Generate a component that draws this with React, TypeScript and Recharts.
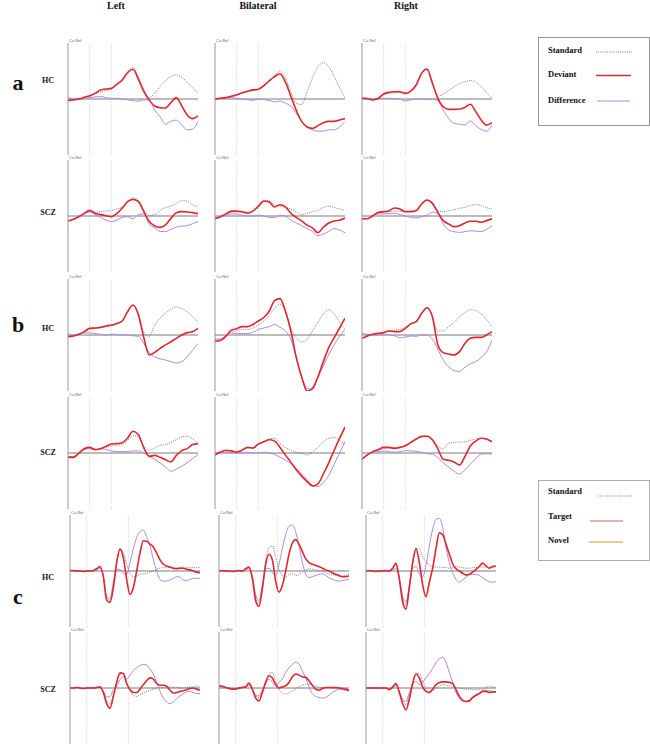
import React from 'react';
import { LineChart, Line, XAxis, YAxis, ReferenceLine } from 'recharts';

// time axes (ms)
const TIME_AB = [-100, -75, -50, -25, 0, 25, 50, 75, 100, 125, 150, 175, 200, 225, 250, 275, 300, 325, 350, 375, 400, 425, 450, 475, 500];
const TIME_C = [-100, -80, -60, -40, -20, 0, 20, 40, 60, 80, 100, 120, 140, 160, 180, 200, 220, 240, 260, 280, 300, 320, 340, 360, 380, 400, 420, 440, 460, 480, 500, 520, 540, 560, 580, 600, 620, 640, 660, 680];

const COLUMNS = ['Left', 'Bilateral', 'Right'];
const GROUPS = ['HC', 'SCZ'];
const PANEL_LETTERS = ['a', 'b', 'c'];

// a: Standard / Deviant / Difference (uV)
const A_HC_L_STD = [-0.05, 0, 0.05, 0.1, 0.2, 0.35, 0.5, 0.6, 0.7, 1.0, 1.3, 1.9, 2.25, 1.6, 0.7, 0.1, 0.4, 0.9, 1.3, 1.6, 1.72, 1.55, 1.2, 0.8, 0.45];
const A_HC_L_DEV = [-0.1, -0.07, 0, 0.12, 0.24, 0.4, 0.64, 0.71, 0.76, 1.05, 1.36, 1.88, 2.12, 1.4, 0.52, -0.07, -0.5, -0.62, -0.64, -0.26, 0.1, -0.5, -1.14, -1.4, -1.2];
const A_HC_L_DIFF = [0.1, 0, -0.05, 0.05, 0.1, 0.15, 0.17, 0.1, 0.05, 0.05, 0, -0.05, -0.12, -0.15, -0.05, -0.1, -0.8, -1.26, -1.8, -1.6, -1.5, -1.86, -2.2, -2.15, -1.6];

const A_SCZ_L_STD = [-0.36, -0.24, -0.05, 0.15, 0.3, 0.25, 0.3, 0.35, 0.4, 0.5, 0.65, 1.0, 1.3, 1.1, 0.45, 0.05, 0.1, 0.4, 0.6, 0.7, 0.9, 1.1, 1.05, 0.8, 0.65];
const A_SCZ_L_DEV = [-0.36, -0.24, -0.05, 0.19, 0.4, 0.19, 0.1, 0.02, -0.05, 0.17, 0.55, 1.02, 1.19, 1.02, 0.31, -0.4, -0.71, -0.81, -0.64, -0.17, 0.24, 0.31, 0.29, 0.24, 0.17];
const A_SCZ_L_DIFF = [-0.36, -0.24, -0.05, 0.15, 0.3, 0.1, -0.1, -0.3, -0.4, -0.3, -0.1, -0.05, -0.2, 0.1, 0.15, -0.6, -0.85, -1.1, -1.12, -0.95, -0.8, -0.72, -0.69, -0.55, -0.4];

const A_HC_B_STD = [0, 0.05, 0.1, 0.15, 0.25, 0.4, 0.5, 0.6, 0.65, 0.9, 1.25, 1.7, 2.0, 1.5, 0.5, -0.3, -0.4, 0.5, 1.5, 2.3, 2.6, 2.3, 1.6, 0.8, 0.1];
const A_HC_B_DEV = [0, 0.05, 0.1, 0.2, 0.3, 0.45, 0.55, 0.65, 0.7, 0.95, 1.3, 1.6, 1.8, 1.2, 0.2, -0.8, -1.6, -2.0, -2.1, -1.9, -1.7, -1.6, -1.6, -1.5, -1.4];
const A_HC_B_DIFF = [0, 0.05, 0.05, 0.1, 0.05, 0, -0.05, -0.1, 0, -0.05, -0.1, -0.2, -0.15, -0.3, -0.5, -1.0, -1.6, -2.0, -2.2, -2.3, -2.3, -2.2, -2.2, -2.0, -1.6];

const A_SCZ_B_STD = [-0.2, -0.1, 0.1, 0.25, 0.3, 0.3, 0.3, 0.35, 0.6, 1.05, 1.1, 0.8, 0.7, 0.6, 0.5, 0.3, 0.1, 0.2, 0.3, 0.4, 0.6, 0.7, 0.6, 0.5, 0.4];
const A_SCZ_B_DEV = [-0.2, -0.05, 0.15, 0.35, 0.35, 0.3, 0.2, 0.35, 0.7, 1.07, 1.0, 0.65, 0.8, 0.65, 0.2, -0.1, -0.35, -0.65, -0.85, -1.2, -0.8, -0.5, -0.35, -0.3, -0.15];
const A_SCZ_B_DIFF = [-0.1, -0.05, 0.05, 0.15, 0.15, 0.05, 0, 0, 0.05, 0, -0.1, -0.1, 0.05, 0, -0.3, -0.5, -0.7, -0.9, -1.1, -1.4, -1.3, -1.1, -0.9, -1.0, -1.2];

const A_HC_R_STD = [0.05, 0.02, -0.05, 0.05, 0.3, 0.4, 0.45, 0.45, 0.4, 0.55, 1.0, 1.85, 2.2, 1.2, 0.2, 0.35, 0.6, 0.88, 1.1, 1.24, 1.31, 1.2, 0.88, 0.45, 0.05];
const A_HC_R_DEV = [0.05, 0.02, -0.07, 0.05, 0.36, 0.48, 0.52, 0.52, 0.4, 0.57, 1.0, 1.83, 2.12, 1.12, 0.05, -0.55, -0.74, -0.74, -0.71, -0.6, -0.38, -0.9, -1.5, -1.86, -1.69];
const A_HC_R_DIFF = [0.1, 0.05, 0, 0.02, 0.05, 0.05, 0.02, 0, -0.14, -0.05, 0, 0, -0.02, -0.03, -0.1, -0.8, -1.38, -1.74, -1.8, -1.86, -1.57, -1.9, -2.17, -2.3, -1.86];

const A_SCZ_R_STD = [-0.2, -0.2, 0, 0.2, 0.25, 0.3, 0.35, 0.35, 0.3, 0.35, 0.45, 0.85, 1.1, 0.95, 0.38, 0.3, 0.38, 0.45, 0.55, 0.62, 0.75, 0.81, 0.75, 0.6, 0.5];
const A_SCZ_R_DEV = [-0.2, -0.2, 0.02, 0.26, 0.31, 0.38, 0.57, 0.5, 0.31, 0.31, 0.38, 0.86, 1.14, 0.9, 0.26, -0.33, -0.57, -0.76, -0.69, -0.5, -0.38, -0.38, -0.45, -0.33, -0.2];
const A_SCZ_R_DIFF = [-0.17, -0.17, 0, 0.15, 0.15, 0.17, 0.2, 0.1, 0, -0.1, -0.14, -0.05, 0.05, 0.26, 0.15, -0.57, -1.0, -1.12, -1.17, -1.12, -1.05, -1.08, -1.12, -0.95, -0.69];

// b
const B_HC_L_STD = [-0.1, -0.05, 0.05, 0.2, 0.4, 0.45, 0.5, 0.6, 0.65, 0.8, 0.95, 1.6, 2.1, 1.5, 0.2, -0.1, 0.7, 1.2, 1.55, 1.85, 2.0, 1.9, 1.67, 1.3, 0.95];
const B_HC_L_DEV = [-0.12, -0.07, 0.05, 0.24, 0.48, 0.5, 0.55, 0.64, 0.71, 0.83, 1.0, 1.67, 2.14, 1.43, -0.2, -1.43, -1.24, -0.95, -0.71, -0.48, -0.24, 0, 0.17, 0.24, 0.48];
const B_HC_L_DIFF = [0.1, -0.05, 0.05, 0.15, 0.15, 0.1, 0.05, 0, 0.05, 0.05, 0, 0, -0.05, -0.1, -0.6, -1.25, -1.55, -1.7, -1.79, -1.9, -2.0, -1.9, -1.55, -1.1, -0.6];

const B_SCZ_L_STD = [-0.3, -0.3, 0, 0.3, 0.4, 0.25, 0.3, 0.4, 0.5, 0.55, 0.6, 0.9, 1.25, 1.1, 0.5, 0.2, 0.35, 0.55, 0.6, 0.75, 0.95, 1.15, 1.2, 1.0, 0.7];
const B_SCZ_L_DEV = [-0.31, -0.31, -0.02, 0.31, 0.4, 0.24, 0.31, 0.48, 0.64, 0.67, 0.74, 1.07, 1.55, 1.31, 0.36, -0.24, -0.17, -0.31, -0.48, -0.64, -0.17, 0.17, 0.31, 0.6, 0.67];
const B_SCZ_L_DIFF = [-0.25, -0.25, 0, 0.25, 0.3, 0.25, 0.3, 0.25, 0.15, 0.1, 0.1, 0.1, 0.15, 0.15, 0, -0.2, -0.45, -0.7, -1.0, -1.3, -1.15, -0.95, -0.7, -0.4, -0.12];

const B_HC_B_STD = [-0.3, -0.3, 0, 0.2, 0.3, 0.4, 0.4, 0.5, 0.7, 1.0, 1.4, 1.9, 2.2, 1.7, 0.5, -0.2, -0.5, -0.3, 0.3, 0.9, 1.5, 1.8, 1.5, 0.9, 0.4];
const B_HC_B_DEV = [-0.45, -0.4, -0.1, 0.35, 0.45, 0.6, 0.6, 0.75, 1.0, 1.25, 1.7, 2.45, 2.6, 1.7, 0.3, -1.6, -3.0, -4.0, -3.8, -3.0, -1.9, -0.9, -0.2, 0.5, 1.2];
const B_HC_B_DIFF = [-0.3, -0.3, -0.05, 0.15, 0.1, 0.1, 0.1, 0.2, 0.4, 0.5, 0.6, 0.75, 0.55, 0.3, -0.3, -1.6, -3.0, -3.8, -3.9, -3.0, -2.2, -1.4, -0.7, -0.1, 0.4];

const B_SCZ_B_STD = [-0.15, 0.05, 0.15, 0.15, 0.1, 0.2, 0.35, 0.4, 0.6, 0.8, 1.0, 1.05, 0.7, 0.4, 0.2, 0.05, 0, -0.15, 0.1, 0.4, 0.8, 1.05, 1.1, 0.9, 0.6];
const B_SCZ_B_DEV = [-0.15, 0.07, 0.2, 0.15, 0.07, 0.2, 0.4, 0.35, 0.65, 0.8, 0.95, 0.85, 0.4, -0.15, -0.65, -1.2, -1.65, -2.05, -2.35, -2.2, -1.5, -0.7, 0.2, 1.05, 1.85];
const B_SCZ_B_DIFF = [0, 0.05, 0.05, 0, 0, 0, 0.05, 0, 0, 0.05, 0, -0.1, -0.3, -0.5, -0.75, -1.1, -1.5, -1.9, -2.3, -2.4, -2.1, -1.6, -0.8, 0, 0.85];

const B_HC_R_STD = [-0.2, -0.05, 0.05, 0.1, 0.15, 0.3, 0.35, 0.4, 0.55, 0.8, 1.0, 1.5, 1.9, 1.3, 0.29, 0.3, 0.6, 0.9, 1.3, 1.6, 1.8, 1.75, 1.5, 1.1, 0.6];
const B_HC_R_DEV = [-0.24, -0.07, 0.05, 0.12, 0.17, 0.29, 0.24, 0.24, 0.48, 0.79, 0.95, 1.55, 1.95, 1.31, -0.71, -1.26, -1.36, -1.43, -1.19, -0.6, -0.24, -0.17, -0.17, 0, 0.24];
const B_HC_R_DIFF = [0.1, 0.05, 0, 0, 0.05, 0.02, -0.05, -0.2, -0.15, -0.07, -0.1, 0.02, 0, -0.3, -1.0, -1.8, -2.26, -2.55, -2.6, -2.3, -2.05, -1.9, -1.6, -1.2, -0.36];

const B_SCZ_R_STD = [-0.4, -0.15, 0.1, 0.2, 0.3, 0.35, 0.35, 0.4, 0.5, 0.75, 0.95, 1.15, 1.2, 0.9, 0.5, 0.3, 0.7, 0.75, 0.78, 0.8, 0.9, 1.0, 1.05, 0.95, 0.8];
const B_SCZ_R_DEV = [-0.43, -0.14, 0.1, 0.24, 0.4, 0.4, 0.33, 0.4, 0.52, 0.76, 1.0, 1.19, 1.2, 0.95, 0.29, -0.45, -0.52, -0.65, -0.86, -0.25, 0.5, 0.85, 1.05, 1.0, 0.8];
const B_SCZ_R_DIFF = [-0.43, -0.1, 0.05, 0.1, 0.14, 0.1, 0.05, 0.1, 0.17, 0.15, 0.12, 0.05, -0.05, -0.1, -0.31, -0.7, -1.0, -1.3, -1.5, -1.2, -0.79, -0.4, -0.07, -0.05, -0.07];

// c: Standard / Target / Novel
const C_HC_L_STD = [0.1, 0.1, 0, 0, -0.1, 0, 0, 0.1, 0.3, 0.6, -0.9, -4.8, -5.3, -2.8, 1.8, 3.9, 3.2, 1.3, -0.4, -1.0, -0.9, -0.6, -0.5, -0.4, -0.2, 0, 0.3, 0.5, 0.6, 0.6, 0.7, 0.7, 0.6, 0.6, 0.7, 0.7, 0.6, 0.6, 0.6, 0.6];
const C_HC_L_TGT = [0.1, 0.1, 0, 0, -0.1, 0, 0, 0.1, 0.4, 0.8, -1.0, -5.2, -5.6, -3.0, 1.5, 3.9, 2.4, -1.5, -4.2, -3.0, 0, 3.2, 5.4, 5.3, 4.8, 4.3, 3.2, 2.0, 1.2, 0.9, 0.7, 0.5, 0.4, 0.5, 0.5, 0.3, 0.2, 0, -0.2, -0.3];
const C_HC_L_NOV = [0, 0, 0, 0, 0, 0, 0, 0, 0.2, 0.5, -1.0, -4.5, -5.0, -2.0, 0.3, 0.3, -0.4, -0.6, 1.5, 4.0, 6.0, 7.0, 7.3, 6.0, 4.5, 2.0, 0, -1.5, -1.8, -1.8, -1.6, -1.3, -1.0, -1.1, -1.6, -1.7, -1.5, -1.3, -1.3, -1.4];

const C_SCZ_L_STD = [0, 0, 0.1, 0, -0.1, 0, 0, 0, 0.1, 0.1, -0.6, -2.2, -2.8, -1.2, 1.0, 2.5, 2.6, 1.0, -0.5, -1.3, -1.5, -1.2, -0.9, -0.6, -0.4, -0.2, 0, 0.1, 0.1, 0.2, 0.2, 0.1, 0.1, 0, 0, 0.1, 0.2, 0.2, 0.3, 0.3];
const C_SCZ_L_TGT = [0, 0, 0.1, 0, -0.1, 0, 0, 0, 0.1, 0.2, -0.8, -2.8, -3.6, -1.5, 1.0, 2.7, 2.6, 0.8, -0.3, -0.8, -0.8, -0.2, 0.6, 1.3, 1.8, 1.6, 0.8, 0.5, 0.5, 0.3, -0.4, -0.9, -0.8, -0.6, -0.5, -0.3, -0.1, 0, -0.2, -0.4];
const C_SCZ_L_NOV = [0, 0, 0.1, 0, -0.1, 0, 0, 0, 0.1, 0.1, -0.5, -1.6, -1.5, -0.3, 0.3, 1.5, 2.0, 1.6, 2.3, 3.1, 3.6, 4.0, 4.2, 4.1, 3.4, 2.5, 1.0, -0.6, -1.8, -2.5, -2.8, -2.5, -1.9, -1.4, -1.0, -0.7, -0.6, -0.8, -1.0, -1.0];

const C_HC_B_STD = [0, 0.1, 0, 0, -0.1, 0, 0.1, 0, 0.3, 0.5, -1.0, -4.6, -5.8, -3.0, 1.8, 4.2, 4.5, 2.5, 0.3, -0.8, -1.0, -0.6, -0.5, -0.8, -0.6, -0.2, 0.2, 0.4, 0.3, 0.2, 0.1, 0, -0.3, -0.5, -0.6, -0.8, -0.9, -1.0, -0.8, -0.6];
const C_HC_B_TGT = [0, 0.1, 0, 0, -0.1, 0, 0.1, 0, 0.4, 0.7, -1.3, -5.3, -6.3, -3.2, 1.2, 3.0, 2.0, -1.8, -3.8, -2.6, 0, 3.0, 5.0, 5.6, 4.8, 3.5, 2.2, 1.5, 1.2, 1.0, 0.8, 0.5, 0.2, 0, -0.3, -0.6, -0.8, -1.0, -1.0, -0.9];
const C_HC_B_NOV = [0, 0, 0, 0, 0, 0, 0, 0, 0.2, 0.4, -1.0, -4.2, -5.3, -2.5, 0.3, 0.5, -0.3, -0.8, 1.2, 4.0, 6.5, 8.0, 8.2, 7.0, 4.5, 1.5, -0.5, -1.2, -1.0, -0.8, -0.6, -0.5, -0.8, -1.2, -1.5, -1.7, -1.8, -1.7, -1.6, -1.5];

const C_SCZ_B_STD = [0.3, 0.2, 0.1, 0, -0.1, -0.1, 0, 0.1, 0.2, 0.5, -0.3, -1.4, -1.7, -0.5, 1.2, 2.5, 2.8, 1.2, -0.2, -0.9, -1.1, -0.9, -0.5, -0.2, 0.2, 0.5, 0.7, 0.7, 0.5, 0.3, 0.2, 0.1, 0.1, 0.1, 0, 0, -0.1, -0.2, -0.3, -0.3];
const C_SCZ_B_TGT = [0.4, 0.3, 0.1, -0.1, -0.2, -0.2, 0, 0.1, 0.2, 0.9, -0.2, -1.8, -2.3, -0.8, 1.0, 2.2, 1.8, 0.6, 0, 0.2, 0.4, 1.0, 2.0, 2.5, 2.3, 2.0, 1.9, 1.3, 0.5, -0.2, -0.4, -0.1, 0.1, 0.1, 0.1, 0.1, 0, -0.1, -0.2, -0.5];
const C_SCZ_B_NOV = [0.2, 0.2, 0.1, 0, -0.1, -0.1, 0, 0.1, 0.1, 0.5, -0.2, -1.2, -1.4, -0.3, 0.8, 1.6, 1.0, 0.4, 1.0, 1.6, 2.8, 3.6, 4.2, 4.6, 4.3, 3.0, 1.8, 0.2, -1.0, -1.5, -1.7, -1.8, -1.7, -1.3, -0.8, -0.5, -0.2, -0.3, -0.4, -0.5];

const C_HC_R_STD = [0, 0.1, 0, -0.1, 0, 0, 0.1, 0, 0.4, 1.0, -1.3, -5.0, -6.0, -2.8, 1.3, 3.7, 4.0, 2.5, 1.8, 1.0, 0.8, 0.7, 0.7, 0.6, 0.6, 0.5, 0.6, 0.8, 0.7, 0.6, 0.5, 0.5, 0.6, 0.6, 0.7, 0.7, 0.7, 0.7, 0.7, 0.7];
const C_HC_R_TGT = [0, 0.1, 0, -0.1, 0, 0, 0.1, 0, 0.5, 1.4, -1.5, -5.5, -6.8, -3.0, 1.5, 4.0, 1.5, -2.5, -4.6, -2.0, 0.5, 4.0, 6.8, 6.5, 4.8, 3.0, 1.3, 0.4, 0, -0.4, -0.7, -0.6, -0.2, 0.3, 0.8, 1.4, 0.9, 0.5, 0.8, 0.9];
const C_HC_R_NOV = [0, 0, 0, 0, 0, 0, 0, 0, 0.2, 0.5, -1.2, -4.5, -5.5, -2.5, 0.5, 0.8, -0.5, -1.0, 1.0, 4.5, 7.5, 9.2, 9.4, 7.8, 4.2, 1.5, -0.3, -1.5, -2.0, -1.6, -1.1, -0.7, -0.6, -0.6, -0.8, -1.2, -1.6, -1.9, -2.0, -1.9];

const C_SCZ_R_STD = [0, 0, 0, 0, 0, 0, 0, -0.2, 0.1, 0.5, -0.6, -2.2, -3.0, -1.3, 1.0, 2.5, 2.6, 1.2, 0, -0.6, -0.5, 0, 0.4, 0.6, 0.5, 0.4, 0.3, 0.1, 0, -0.1, -0.2, -0.2, -0.3, -0.3, -0.3, -0.3, 0.1, 0.3, 0.2, 0.1];
const C_SCZ_R_TGT = [0, 0, 0, 0, 0, 0, 0, -0.3, 0.2, 0.8, -0.8, -2.8, -3.9, -2.0, 0.8, 2.5, 1.8, 0.2, -0.6, -0.8, -0.2, 0.6, 1.0, 1.1, 1.1, 1.0, 0.8, -0.3, -1.5, -2.2, -2.4, -2.3, -1.7, -1.3, -1.0, -0.6, -0.6, -0.8, -0.7, -0.7];
const C_SCZ_R_NOV = [0, 0, 0, 0, 0, 0, 0, -0.2, 0.1, 0.5, -0.6, -2.0, -2.4, -0.8, 0.6, 1.2, 0.6, 1.0, 1.8, 2.6, 3.5, 4.5, 5.2, 5.5, 4.6, 2.8, 1.0, -0.8, -1.9, -2.3, -2.4, -2.1, -1.6, -1.2, -0.9, -0.6, -0.4, -0.5, -0.6, -0.7];

// layout
const PLOT_W = 130;
const HALF_H = 56;
const COL_X_AB = [68, 215, 362];
const COL_X_C = [70, 219, 366];
const ROW_ZERO = [99, 216, 335, 453, 571, 688];
const ROW_LABEL_Y = [83, 215, 331, 455, 580, 692];
const LETTER_Y = [90, 332, 604];

const SERIES = [
    [[A_HC_L_STD, A_HC_L_DEV, A_HC_L_DIFF], [A_HC_B_STD, A_HC_B_DEV, A_HC_B_DIFF], [A_HC_R_STD, A_HC_R_DEV, A_HC_R_DIFF]],
    [[A_SCZ_L_STD, A_SCZ_L_DEV, A_SCZ_L_DIFF], [A_SCZ_B_STD, A_SCZ_B_DEV, A_SCZ_B_DIFF], [A_SCZ_R_STD, A_SCZ_R_DEV, A_SCZ_R_DIFF]],
    [[B_HC_L_STD, B_HC_L_DEV, B_HC_L_DIFF], [B_HC_B_STD, B_HC_B_DEV, B_HC_B_DIFF], [B_HC_R_STD, B_HC_R_DEV, B_HC_R_DIFF]],
    [[B_SCZ_L_STD, B_SCZ_L_DEV, B_SCZ_L_DIFF], [B_SCZ_B_STD, B_SCZ_B_DEV, B_SCZ_B_DIFF], [B_SCZ_R_STD, B_SCZ_R_DEV, B_SCZ_R_DIFF]],
    [[C_HC_L_STD, C_HC_L_TGT, C_HC_L_NOV], [C_HC_B_STD, C_HC_B_TGT, C_HC_B_NOV], [C_HC_R_STD, C_HC_R_TGT, C_HC_R_NOV]],
    [[C_SCZ_L_STD, C_SCZ_L_TGT, C_SCZ_L_NOV], [C_SCZ_B_STD, C_SCZ_B_TGT, C_SCZ_B_NOV], [C_SCZ_R_STD, C_SCZ_R_TGT, C_SCZ_R_NOV]],
];

const STD_COLOR = '#5a5a5a';
const RED = '#e3262c';
const PURPLE = '#b386dd';
const AXIS_GRAY = '#9a9a9a';

const SERIF = '"Liberation Serif", "Times New Roman", serif';

interface PanelProps {
    axisX: number;
    zeroY: number;
    time: number[];
    std: number[];
    main: number[];
    other: number[];
    isC: boolean;
}

const ML = 2;
const YW = 4;
const MT = 4;
const MR = 2;
const MB = 2;

const Panel: React.FC<PanelProps> = ({ axisX, zeroY, time, std, main, other, isC }) => {
    const data = time.map((t, i) => ({ t, std: std[i], main: main[i], other: other[i] }));
    const xDomain = isC ? [-100, 680] : [-100, 500];
    const yDomain = isC ? [-10, 10] : [-4, 4];
    const ticks = isC ? [-10, -8, -6, -4, -2, 0, 2, 4, 6, 8, 10] : [-4, -2, 0, 2, 4];
    const markers = isC ? [0, 250] : [0, 100];
    return (
        <div style={{ position: 'absolute', left: axisX - ML - YW, top: zeroY - HALF_H - MT }}>
            <LineChart
                width={ML + YW + PLOT_W + MR}
                height={MT + HALF_H * 2 + MB}
                data={data}
                margin={{ top: MT, right: MR, left: ML, bottom: MB }}
            >
                <XAxis dataKey="t" type="number" domain={xDomain} hide allowDataOverflow />
                <YAxis
                    type="number"
                    domain={yDomain}
                    ticks={ticks}
                    width={YW}
                    tick={false}
                    tickSize={2}
                    axisLine={{ stroke: AXIS_GRAY, strokeWidth: 1 }}
                    tickLine={{ stroke: AXIS_GRAY, strokeWidth: 0.8 }}
                    allowDataOverflow
                />
                {markers.map((m) => (
                    <ReferenceLine key={m} x={m} stroke="#c2c2c2" strokeWidth={0.8} strokeDasharray="1 1.5" />
                ))}
                <ReferenceLine y={0} stroke="#a6a6a6" strokeWidth={1.6} />
                <Line dataKey="std" type="monotone" stroke={STD_COLOR} strokeWidth={0.8} strokeDasharray="1 1.2" dot={false} isAnimationActive={false} />
                <Line dataKey="other" type="monotone" stroke={PURPLE} strokeWidth={1} dot={false} isAnimationActive={false} />
                <Line dataKey="main" type="monotone" stroke={RED} strokeWidth={1.6} dot={false} isAnimationActive={false} />
            </LineChart>
            <div
                style={{
                    position: 'absolute',
                    left: ML + YW + 1,
                    top: 0,
                    fontSize: 4,
                    lineHeight: '4px',
                    color: '#666',
                    fontFamily: 'Arial, sans-serif',
                    whiteSpace: 'nowrap',
                }}
            >
                Cz-Ref
            </div>
        </div>
    );
};

const App: React.FC = () => {
    const colCenters = [116, 258, 406];
    return (
        <div style={{ position: 'absolute', left: 0, top: 0, width: 650, height: 746, background: '#fff', overflow: 'hidden' }}>
            {SERIES.map((row, r) =>
                row.map((cell, c) => {
                    const isC = r >= 4;
                    return (
                        <Panel
                            key={`${r}-${c}`}
                            axisX={isC ? COL_X_C[c] : COL_X_AB[c]}
                            zeroY={ROW_ZERO[r]}
                            time={isC ? TIME_C : TIME_AB}
                            std={cell[0]}
                            main={cell[1]}
                            other={cell[2]}
                            isC={isC}
                        />
                    );
                })
            )}
            <svg width={650} height={746} style={{ position: 'absolute', left: 0, top: 0, pointerEvents: 'none' }}>
                <g fontFamily={SERIF} fontWeight="bold" fill="#111">
                    {COLUMNS.map((name, i) => (
                        <text key={name} x={colCenters[i]} y={9} fontSize={10} textAnchor="middle">
                            {name}
                        </text>
                    ))}
                    {PANEL_LETTERS.map((l, i) => (
                        <text key={l} x={18} y={LETTER_Y[i]} fontSize={22} textAnchor="middle">
                            {l}
                        </text>
                    ))}
                    {ROW_LABEL_Y.map((y, i) => (
                        <text key={i} x={48} y={y} fontSize={8} textAnchor="middle">
                            {GROUPS[i % 2]}
                        </text>
                    ))}
                </g>

                {/* legend a/b */}
                <rect x={538.5} y={37.5} width={111} height={88} fill="#fff" stroke="#7a7a7a" strokeWidth={0.8} />
                <g fontFamily={SERIF} fontWeight="bold" fontSize={8.5} fill="#111">
                    <text x={548} y={53}>Standard</text>
                    <text x={548} y={77}>Deviant</text>
                    <text x={548} y={103}>Difference</text>
                </g>
                <line x1={596} y1={52} x2={632} y2={52} stroke={STD_COLOR} strokeWidth={0.8} strokeDasharray="1 1.2" />
                <line x1={596} y1={75.5} x2={631} y2={75.5} stroke={RED} strokeWidth={1.6} />
                <line x1={597} y1={101} x2={630} y2={101} stroke={PURPLE} strokeWidth={1} />

                {/* legend c */}
                <rect x={538.5} y={480.5} width={111} height={80} fill="#fff" stroke="#9a9a9a" strokeWidth={0.8} />
                <g fontFamily={SERIF} fontWeight="bold" fontSize={8.5} fill="#111">
                    <text x={548} y={494}>Standard</text>
                    <text x={548} y={519}>Target</text>
                    <text x={548} y={543}>Novel</text>
                </g>
                <line x1={598} y1={496} x2={633} y2={496} stroke={STD_COLOR} strokeWidth={0.8} strokeDasharray="1 1.2" />
                <line x1={590} y1={521} x2={623} y2={521} stroke="#e05a5a" strokeWidth={1} />
                <line x1={589} y1={542} x2={623} y2={542} stroke="#d49a1c" strokeWidth={1} />
            </svg>
        </div>
    );
};

export default App;
